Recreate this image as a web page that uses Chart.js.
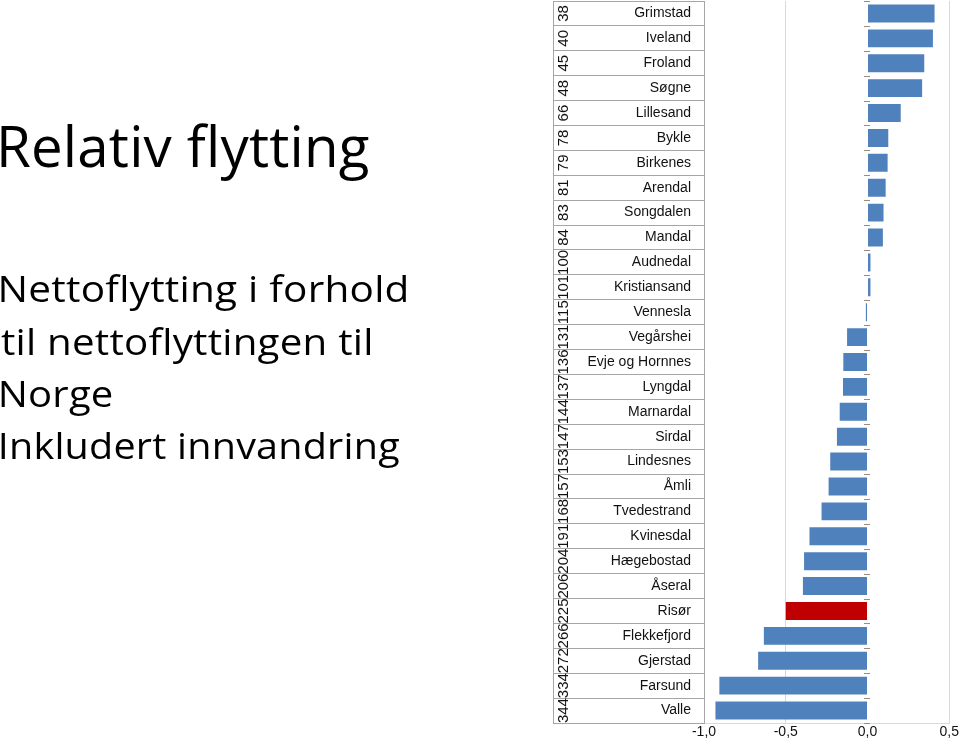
<!DOCTYPE html>
<html lang="no">
<head>
    <meta charset="UTF-8">
    <title>Relativ flytting</title>
    <script src="https://cdn.jsdelivr.net/npm/chart.js@4.4.0/dist/chart.umd.min.js"></script>
    <style>
        body { margin: 0; background: #ffffff; }
        .chart-container { position: relative; width: 960px; height: 747px; }
    </style>
</head>
<body>
    <div class="chart-container">
        <canvas id="flyttingChart"></canvas>
    </div>

    <script>
        // Kommuner, rangering og relativ nettoflytting (lest av figuren)
        const municipalities = ['Grimstad', 'Iveland', 'Froland', 'Søgne', 'Lillesand', 'Bykle', 'Birkenes',
            'Arendal', 'Songdalen', 'Mandal', 'Audnedal', 'Kristiansand', 'Vennesla', 'Vegårshei',
            'Evje og Hornnes', 'Lyngdal', 'Marnardal', 'Sirdal', 'Lindesnes', 'Åmli', 'Tvedestrand',
            'Kvinesdal', 'Hægebostad', 'Åseral', 'Risør', 'Flekkefjord', 'Gjerstad', 'Farsund', 'Valle'];
        const ranks = [38, 40, 45, 48, 66, 78, 79, 81, 83, 84, 100, 101, 115, 131, 136, 137, 144, 147,
            153, 157, 168, 191, 204, 206, 225, 266, 272, 334, 344];
        const netMigration = [0.41, 0.40, 0.347, 0.334, 0.203, 0.127, 0.123, 0.111, 0.098, 0.094,
            0.018, 0.018, -0.01, -0.125, -0.148, -0.15, -0.17, -0.187, -0.228, -0.238, -0.281,
            -0.355, -0.388, -0.395, -0.50, -0.634, -0.669, -0.906, -0.93];
        const highlighted = 'Risør';

        const titleText = 'Relativ flytting';
        const subtitleLines = ['Nettoflytting i forhold', 'til nettoflyttingen til', 'Norge', 'Inkludert innvandring'];

        // tekst til venstre, tegnet på canvas og tilpasset bredden
        function drawFitted(ctx, text, x, baseline, size, targetWidth) {
            ctx.font = size + 'px "Open Sans", "Noto Sans", sans-serif';
            if ('letterSpacing' in ctx) ctx.letterSpacing = '0.2px';
            const m = ctx.measureText(text);
            const ink = m.actualBoundingBoxLeft + m.actualBoundingBoxRight;
            const sx = targetWidth / ink;
            ctx.save();
            ctx.translate(x, baseline);
            ctx.scale(sx, 1);
            ctx.fillText(text, m.actualBoundingBoxLeft, 0);
            ctx.restore();
        }

        const sidePlugin = {
            id: 'sidePlugin',
            afterDraw(chart) {
                const { ctx, chartArea } = chart;
                const yScale = chart.scales.y;
                const xScale = chart.scales.x;
                ctx.save();

                // venstre kant av tabellen
                ctx.strokeStyle = '#a6a6a6';
                ctx.lineWidth = 1;
                ctx.beginPath();
                ctx.moveTo(553.5, chartArea.top);
                ctx.lineTo(553.5, chartArea.bottom);
                ctx.stroke();

                // rangering, rotert
                ctx.fillStyle = '#111111';
                ctx.font = '15px "Liberation Sans", Arial, sans-serif';
                ctx.textAlign = 'center';
                ctx.textBaseline = 'middle';
                ranks.forEach((r, i) => {
                    ctx.save();
                    ctx.translate(563, yScale.getPixelForValue(i));
                    ctx.rotate(-Math.PI / 2);
                    ctx.fillText(String(r), 0, 1);
                    ctx.restore();
                });

                // små merker ved null
                const x0 = Math.round(xScale.getPixelForValue(0));
                ctx.strokeStyle = '#9c8c7c';
                for (let i = 0; i <= municipalities.length; i++) {
                    const py = Math.round(yScale.getPixelForValue(i - 0.5)) + 0.5;
                    ctx.beginPath();
                    ctx.moveTo(x0 - 4, py);
                    ctx.lineTo(x0 + 2, py);
                    ctx.stroke();
                }

                // titler
                ctx.fillStyle = '#000000';
                ctx.textAlign = 'left';
                ctx.textBaseline = 'alphabetic';
                drawFitted(ctx, titleText, 1, 166.5, 56, 368);
                const baselines = [301.5, 355, 406.5, 459];
                const widths = [405, 370, 111, 398];
                subtitleLines.forEach((line, i) => drawFitted(ctx, line, 1, baselines[i], 36, widths[i]));

                ctx.restore();
            }
        };

        const flyttingChart = {
            type: 'bar',
            data: {
                labels: municipalities,
                datasets: [{
                    data: netMigration,
                    backgroundColor: municipalities.map(m => m === highlighted ? '#C00000' : '#4F81BD'),
                    borderWidth: 0,
                    barPercentage: 0.72,
                    categoryPercentage: 1
                }]
            },
            options: {
                indexAxis: 'y',
                responsive: true,
                maintainAspectRatio: false,
                animation: false,
                layout: { padding: { top: 1, right: 8, left: 0, bottom: 0 } },
                scales: {
                    x: {
                        min: -1,
                        max: 0.5,
                        ticks: {
                            stepSize: 0.5,
                            color: '#111111',
                            font: { family: '"Liberation Sans", Arial, sans-serif', size: 14 },
                            padding: 1,
                            callback: v => v.toFixed(1).replace('.', ',')
                        },
                        grid: {
                            color: ctx => ctx.tick && ctx.tick.value === 0 ? 'rgba(0,0,0,0)' : '#d9d9d9',
                            drawTicks: false
                        },
                        border: { color: '#d9d9d9' },
                        afterFit: s => { s.height = 24; }
                    },
                    y: {
                        grid: {
                            offset: true,
                            drawOnChartArea: false,
                            drawTicks: true,
                            tickLength: 151,
                            color: '#a6a6a6'
                        },
                        border: { color: '#a6a6a6' },
                        ticks: {
                            color: '#111111',
                            font: { family: '"Liberation Sans", Arial, sans-serif', size: 14 },
                            padding: -138,
                            autoSkip: false
                        },
                        afterFit: s => { s.width = 704; }
                    }
                },
                plugins: {
                    legend: { display: false },
                    tooltip: { enabled: false }
                }
            },
            plugins: [sidePlugin]
        };
        new Chart(document.getElementById('flyttingChart'), flyttingChart);
    </script>
</body>
</html>
